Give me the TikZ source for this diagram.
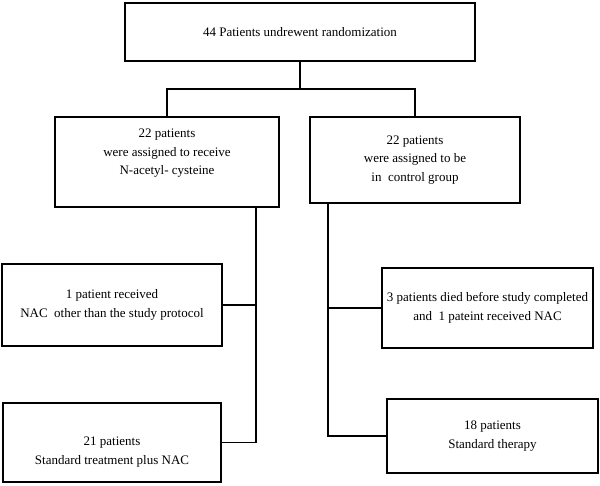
\documentclass[tikz,border=0pt]{standalone}
\usepackage{fontspec}
\setmainfont{Liberation Serif}
\begin{document}
\begin{tikzpicture}[x=1pt,y=-1pt,
  box/.style={draw=black,line width=1.8pt,fill=white,inner sep=0pt},
  txt/.style={align=center,font=\fontsize{13}{18.5}\selectfont,inner sep=0pt},
  link/.style={draw=black,line width=1.8pt}]
\useasboundingbox (0,0) rectangle (600,485);
\node[box,minimum width=350pt,minimum height=58pt] (top) at (300,32) {};
\node[txt] (ttop) at (top.center) {44 Patients undrewent randomization};
\node[box,minimum width=224pt,minimum height=90pt] (l1) at (167,162) {};
\node[txt] (tl1) at ([yshift=8.5pt]l1.center) {22 patients\\were assigned to receive\\N-acetyl- cysteine};
\node[box,minimum width=210pt,minimum height=86pt] (r1) at (415,160) {};
\node[txt] (tr1) at (r1.center) {22 patients\\were assigned to be\\in\ \ control group};
\node[box,minimum width=220pt,minimum height=82pt] (l2) at (112,305) {};
\node[txt] (tl2) at (l2.center) {1 patient received\\NAC\ \ other than the study protocol};
\node[box,minimum width=211pt,minimum height=80pt] (r2) at (487.5,308) {};
\node[txt] (tr2) at (r2.center) {3 patients died before study completed\\and\ \ 1 pateint received NAC};
\node[box,minimum width=218pt,minimum height=79pt] (l3) at (112,442.5) {};
\node[txt] (tl3) at ([yshift=-9.5pt]l3.center) {21 patients\\Standard treatment plus NAC};
\node[box,minimum width=211pt,minimum height=74pt] (r3) at (492.5,436) {};
\node[txt] (tr3) at (r3.center) {18 patients\\Standard therapy};
\draw[link] (top.south) -- ++(0,27) coordinate (split);
\draw[link] (l1.north) |- (split) -| (r1.north);
\draw[link] ([xshift=-24pt]l1.south east) coordinate (lv) |- (l3.east);
\draw[link] (l2.east) -- (l2.east -| lv);
\draw[link] ([xshift=19pt]r1.south west) coordinate (rv) |- (r3.west);
\draw[link] (r2.west) -- (r2.west -| rv);
\end{tikzpicture}
\end{document}
